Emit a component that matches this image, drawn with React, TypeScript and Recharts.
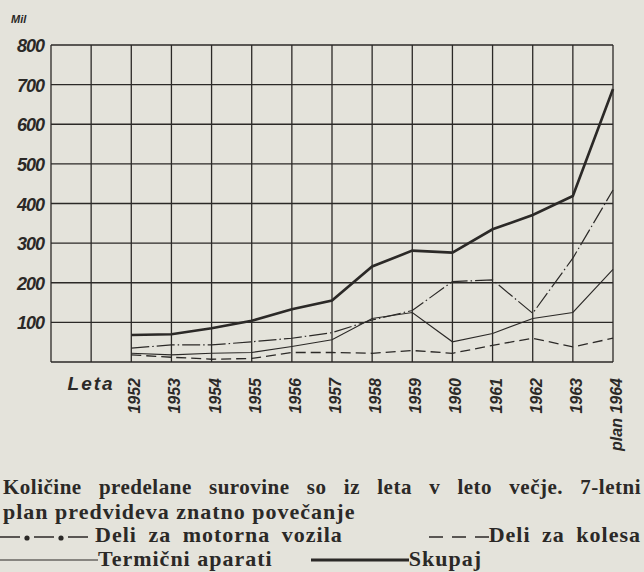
import { LineChart, Line, XAxis, YAxis, CartesianGrid } from "recharts";

// years on the x axis (1952-1963 actual, 1964 plan)
const years = [1952, 1953, 1954, 1955, 1956, 1957, 1958, 1959, 1960, 1961, 1962, 1963, 1964];

// amounts of processed raw material, in the chart's unit
const skupaj = [68, 70, 85, 104, 133, 155, 241, 281, 276, 335, 371, 419, 689];
const motornaVozila = [35, 43, 43, 51, 60, 74, 106, 130, 203, 207, 123, 262, 434];
const termicniAparati = [22, 18, 22, 24, 39, 56, 110, 125, 51, 72, 110, 125, 234];
const kolesa = [18, 12, 7, 9, 24, 24, 22, 29, 22, 42, 60, 38, 60];

const xTicks = [1950, 1951, 1952, 1953, 1954, 1955, 1956, 1957, 1958, 1959, 1960, 1961, 1962, 1963, 1964];
const yTicks = [0, 100, 200, 300, 400, 500, 600, 700, 800];
const xLabels: Record<number, string> = {
  1951: "Leta",
  1952: "1952",
  1953: "1953",
  1954: "1954",
  1955: "1955",
  1956: "1956",
  1957: "1957",
  1958: "1958",
  1959: "1959",
  1960: "1960",
  1961: "1961",
  1962: "1962",
  1963: "1963",
  1964: "plan 1964",
};

const data = years.map((year, i) => ({
  year,
  skupaj: skupaj[i],
  motorna: motornaVozila[i],
  termicni: termicniAparati[i],
  kolesa: kolesa[i],
}));

const INK = "#2b2927";
const PAPER = "#e4e3db";
const hand = "'Liberation Sans', Arial, sans-serif";
const serif = "'Liberation Serif', 'Times New Roman', serif";

const YearTick = (props: any) => {
  const { x, y, payload } = props;
  const label = xLabels[payload.value];
  if (!label) return null;
  if (payload.value === 1951) {
    return (
      <text x={x} y={y + 20} textAnchor="middle" fill={INK} fontFamily={hand}
        fontStyle="italic" fontWeight="bold" fontSize={19} letterSpacing={2}>
        {label}
      </text>
    );
  }
  const ax = x + 9;
  const ay = y + 8;
  return (
    <text x={ax} y={ay} transform={`rotate(-90 ${ax} ${ay})`} textAnchor="end" fill={INK}
      fontFamily={hand} fontStyle="italic" fontWeight="bold" fontSize={16}>
      {label}
    </text>
  );
};

const ValueTick = (props: any) => {
  const { x, y, payload } = props;
  if (payload.value === 0) return null;
  return (
    <text x={x + 1} y={y + 7} textAnchor="end" fill={INK} fontFamily={hand}
      fontStyle="italic" fontWeight="bold" fontSize={18} letterSpacing={-1}>
      {payload.value}
    </text>
  );
};

const Sample = ({ width, dash, sw, dots }: { width: number; dash?: string; sw: number; dots?: number[] }) => (
  <svg width={width} height={12} style={{ verticalAlign: "middle" }}>
    <line x1={0} y1={6} x2={width} y2={6} stroke={INK} strokeWidth={sw} strokeDasharray={dash} />
    {dots?.map((d) => (
      <circle key={d} cx={d} cy={7} r={2.6} fill={INK} />
    ))}
  </svg>
);

export default function App() {
  return (
    <div style={{ position: "absolute", left: 0, top: 0, width: 644, height: 572, background: PAPER, overflow: "hidden" }}>
      <span style={{ position: "absolute", left: 11, top: 13, fontFamily: hand, fontStyle: "italic", fontWeight: "bold", fontSize: 11, color: INK }}>
        Mil
      </span>
      <LineChart width={644} height={470} data={data} margin={{ top: 45, right: 31, left: 0, bottom: 8 }}>
        <CartesianGrid stroke={INK} strokeWidth={1.3} syncWithTicks />
        <XAxis dataKey="year" type="number" domain={[1950, 1964]} ticks={xTicks} interval={0}
          axisLine={false} tickLine={false} height={100} tick={<YearTick />} />
        <YAxis type="number" domain={[0, 800]} ticks={yTicks} interval={0} width={51}
          axisLine={false} tickLine={false} tick={<ValueTick />} />
        <Line dataKey="kolesa" stroke={INK} strokeWidth={1.3} strokeDasharray="10 5" dot={false} isAnimationActive={false} />
        <Line dataKey="termicni" stroke={INK} strokeWidth={1.1} dot={false} isAnimationActive={false} />
        <Line dataKey="motorna" stroke={INK} strokeWidth={1.2} strokeDasharray="18 3 1.5 3" dot={false} isAnimationActive={false} />
        <Line dataKey="skupaj" stroke={INK} strokeWidth={2.6} dot={false} isAnimationActive={false} />
      </LineChart>
      <div style={{ position: "absolute", left: 3, top: 476, width: 638, fontFamily: serif, fontWeight: "bold", fontSize: 22, letterSpacing: 1, lineHeight: "23.5px", color: INK }}>
        <div style={{ whiteSpace: "nowrap", fontSize: 21, letterSpacing: 0.5, textAlign: "justify", textAlignLast: "justify" }}>
          Količine predelane surovine so iz leta v leto večje. 7-letni
        </div>
        <div>plan predvideva znatno povečanje</div>
        <div style={{ display: "flex", justifyContent: "space-between", whiteSpace: "nowrap", wordSpacing: 5, marginLeft: -3 }}>
          <span>
            <Sample width={95} sw={1.3} dash="20 14" dots={[27, 61]} />
            Deli za motorna vozila
          </span>
          <span>
            <Sample width={60} sw={1.3} dash="14 9" />
            Deli za kolesa
          </span>
        </div>
        <div style={{ whiteSpace: "nowrap", marginLeft: -3 }}>
          <Sample width={98} sw={1.1} />
          Termični aparati
          <span style={{ marginLeft: 38 }}>
            <Sample width={98} sw={3} />
          </span>
          Skupaj
        </div>
      </div>
    </div>
  );
}
